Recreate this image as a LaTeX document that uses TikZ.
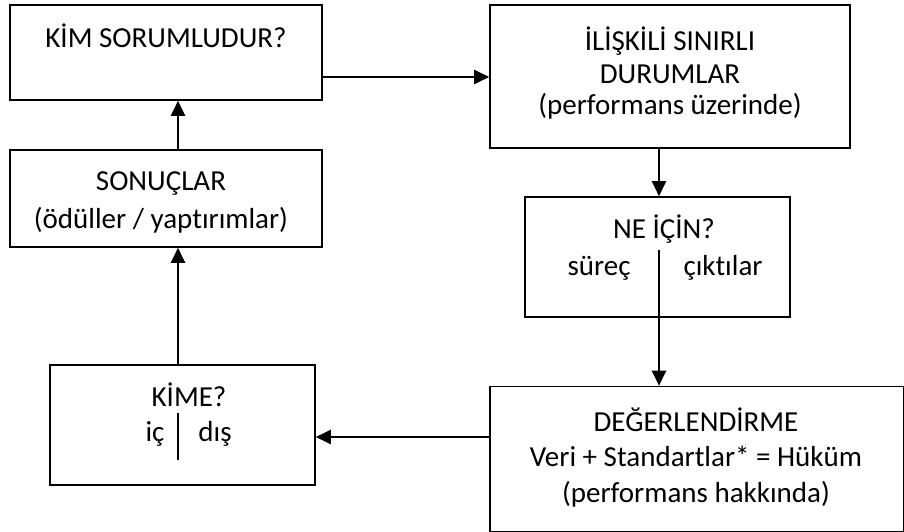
\documentclass[tikz,border=0pt]{standalone}
\usepackage{fontspec}
\setmainfont{Carlito}[Ligatures=NoCommon]
\usetikzlibrary{arrows.meta}
\begin{document}
\begin{tikzpicture}[x=1pt,y=-1pt,
  boxstyle/.style={draw=black,line width=1.6pt,inner sep=0pt,rectangle},
  txt/.style={inner sep=0pt,align=center,anchor=base,font=\fontsize{29}{29.5}\selectfont},
  arr/.style={line width=2.2pt,-{Triangle[length=15pt,width=14pt]}}]
\useasboundingbox (0,0) rectangle (904,532);
% boxes
\node[boxstyle,minimum width=312pt,minimum height=95pt] (kim) at (166,52.5) {};
\node[boxstyle,minimum width=360pt,minimum height=143pt] (iliski) at (670,76.5) {};
\node[boxstyle,minimum width=312pt,minimum height=97pt] (sonuc) at (166,198.5) {};
\node[boxstyle,minimum width=265pt,minimum height=120pt] (neicin) at (657.5,257) {};
\node[boxstyle,minimum width=265pt,minimum height=120pt] (kime) at (182.5,425) {};
\node[boxstyle,minimum width=414pt,minimum height=145pt] (deg) at (697,459) {};
% texts (base anchor of a multi-line node = its last line)
\node[txt] (tkim) at (166,48) {KİM SORUMLUDUR?};
\node[txt,font=\fontsize{29}{32}\selectfont] (tiliski) at (670,115) {İLİŞKİLİ SINIRLI\\DURUMLAR\\(performans üzerinde)};
\node[txt,font=\fontsize{29}{38}\selectfont] (tsonuc) at (161,228) {SONUÇLAR\\(ödüller / yaptırımlar)};
\node[txt] (tneicin) at (664,238) {NE İÇİN?};
\node[txt] (tsurec) at (599,275) {süreç};
\node[txt] (tcikti) at (723,275) {çıktılar};
\node[txt] (tkime) at (189,406) {KİME?};
\node[txt] (tic) at (155,441) {iç};
\node[txt] (tdis) at (215,441) {dış};
\node[txt,font=\fontsize{29}{35.5}\selectfont] (tdeg) at (696,502) {DEĞERLENDİRME\\Veri + Standartlar* = Hüküm\\(performans hakkında)};
% helper coordinates
\coordinate (ya) at (0,77);
\coordinate (yb) at (0,437);
\coordinate (xa) at (659,0);
\coordinate (xb) at (178,0);
\coordinate (ndiv) at (659,250);
\coordinate (kdivtop) at (178,413);
\coordinate (kdivbot) at (178,460);
% connectors
\draw[arr] (kim.east |- ya) -- (iliski.west |- ya);
\draw[arr] (iliski.south -| xa) -- (neicin.north -| xa);
\draw[arr] (ndiv) -- (deg.north -| xa);
\draw[arr] (deg.west |- yb) -- (kime.east |- yb);
\draw[arr] (kime.north -| xb) -- (sonuc.south -| xb);
\draw[arr] (sonuc.north -| xb) -- (kim.south -| xb);
\draw[line width=1.3pt] (kdivtop) -- (kdivbot);
\end{tikzpicture}
\end{document}
